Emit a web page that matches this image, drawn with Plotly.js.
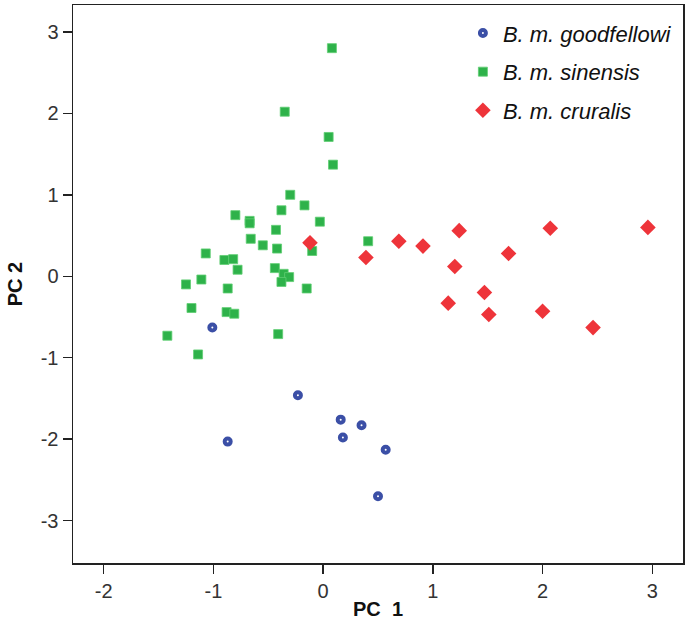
<!DOCTYPE html>
<html>
<head>
<meta charset="utf-8">
<script src="https://cdn.plot.ly/plotly-3.0.1.min.js"></script>
<style>html,body{margin:0;padding:0;background:#fff;}#chart{width:685px;height:620px;}</style>
</head>
<body>
<div id="chart"></div>
<script>
// Series names
const seriesNames = ["B. m. goodfellowi", "B. m. sinensis", "B. m. cruralis"];

// B. m. goodfellowi (PC1, PC2)
const goodPC1 = [-1.01, -0.23, 0.16, 0.35, 0.18, -0.87, 0.57, 0.50];
const goodPC2 = [-0.63, -1.46, -1.76, -1.83, -1.98, -2.03, -2.13, -2.70];

// B. m. sinensis (PC1, PC2)
const sinPC1 = [0.08, -0.35, 0.05, 0.09, -0.30, -0.17, -0.38, -0.80, -0.67, -0.67, -0.03, -0.43,
                -0.66, -0.55, -0.42, -0.10, 0.41, -1.07, -0.90, -0.82, -0.78, -0.44, -0.36, -0.31,
                -0.38, -1.11, -1.25, -0.87, -0.15, -1.20, -0.88, -0.81, -0.41, -1.42, -1.14];
const sinPC2 = [2.80, 2.02, 1.71, 1.37, 1.00, 0.87, 0.81, 0.75, 0.68, 0.65, 0.67, 0.57,
                0.46, 0.38, 0.34, 0.31, 0.43, 0.28, 0.20, 0.21, 0.08, 0.10, 0.03, -0.01,
                -0.07, -0.04, -0.10, -0.15, -0.15, -0.39, -0.44, -0.46, -0.71, -0.73, -0.96];

// B. m. cruralis (PC1, PC2)
const cruPC1 = [-0.12, 0.39, 0.69, 0.91, 1.24, 1.20, 1.69, 2.07, 2.96, 1.47, 1.14, 1.51, 2.00, 2.46];
const cruPC2 = [0.41, 0.23, 0.43, 0.37, 0.56, 0.12, 0.28, 0.59, 0.60, -0.20, -0.33, -0.47, -0.43, -0.63];

// Tick values
const xTicks = [-2, -1, 0, 1, 2, 3];
const yTicks = [-3, -2, -1, 0, 1, 2, 3];

const FONT = "Liberation Sans, Arial, sans-serif";

const traces = [
  {
    x: goodPC1, y: goodPC2, name: "<i>" + seriesNames[0] + "</i>", type: "scatter", mode: "markers",
    legendgroup: "g1",
    marker: {symbol: "circle-open", size: 6, color: "#3B4FA6", line: {width: 4, color: "#3B4FA6"}}
  },
  {
    x: sinPC1, y: sinPC2, name: "<i>" + seriesNames[1] + "</i>", type: "scatter", mode: "markers",
    legendgroup: "g2",
    marker: {symbol: "square", size: 9, color: "#2EB24A", line: {width: 0.8, color: "#5fce72"}}
  },
  {
    x: cruPC1, y: cruPC2, name: "<i>" + seriesNames[2] + "</i>", type: "scatter", mode: "markers",
    legendgroup: "g3",
    marker: {symbol: "diamond", size: 12, color: "#EE343A", line: {width: 0}}
  }
];

const axisCommon = {
  showgrid: false, zeroline: false, showline: true, mirror: true,
  linecolor: "#222", linewidth: 1.5,
  ticks: "outside", ticklen: 9, tickwidth: 1.5, tickcolor: "#222",
  tickfont: {family: FONT, size: 20, color: "#333"},
  fixedrange: true
};

const layout = {
  width: 685, height: 620,
  margin: {l: 73, r: 2, t: 5, b: 57},
  paper_bgcolor: "#fff", plot_bgcolor: "#fff",
  showlegend: true,
  legend: {
    x: 0.99, xanchor: "right", y: 0.987, yanchor: "top",
    bgcolor: "rgba(0,0,0,0)", borderwidth: 0,
    traceorder: "grouped", tracegroupgap: 7,
    font: {family: FONT, size: 22, color: "#111"},
    itemwidth: 30
  },
  xaxis: Object.assign({}, axisCommon, {
    range: [-2.28, 3.28], tickvals: xTicks, ticktext: xTicks.map(String),
    title: {text: "<b>PC\u00a0 1</b>", font: {family: FONT, size: 20, color: "#111"}, standoff: 10}
  }),
  yaxis: Object.assign({}, axisCommon, {
    range: [-3.52, 3.33], tickvals: yTicks, ticktext: yTicks.map(String),
    title: {text: "<b>PC 2</b>", font: {family: FONT, size: 20, color: "#111"}, standoff: 12}
  })
};

Plotly.newPlot("chart", traces, layout, {displayModeBar: false, staticPlot: true});
</script>
</body>
</html>
